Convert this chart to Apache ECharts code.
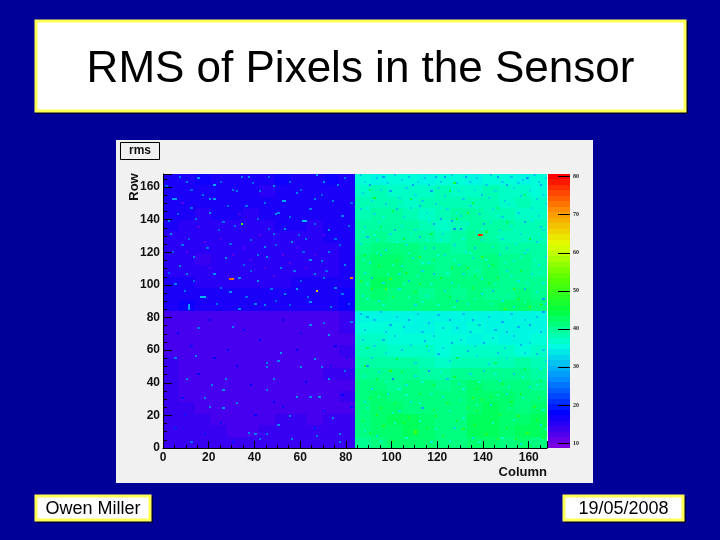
<!DOCTYPE html>
<html>
<head>
<meta charset="utf-8">
<style>
  html, body { margin: 0; padding: 0; background: #000099; }
  #chart { width: 720px; height: 540px; }
</style>
<script src="https://cdn.jsdelivr.net/npm/echarts@6/dist/echarts.min.js"></script>
</head>
<body>
<div id="chart"></div>
<script>
// tick labels
const colorbarTicks = [10, 20, 30, 40, 50, 60, 70, 80];

// rms per block of 7x7 pixels, top row of blocks first
const leftBlocks = [
  [16, 16, 17, 16, 16, 16, 16, 17, 16, 16, 17, 16],
  [16, 16, 16, 16, 16, 16, 15, 16, 16, 16, 16, 16],
  [16, 16, 16, 16, 16, 16, 16, 16, 16, 16, 16, 16],
  [16, 16, 15, 16, 16, 15, 16, 16, 16, 16, 16, 16],
  [16, 15, 15, 15, 15, 15, 15, 16, 16, 15, 16, 16],
  [15, 15, 15, 15, 15, 15, 15, 15, 15, 15, 16, 16],
  [15, 15, 15, 15, 15, 15, 15, 15, 15, 15, 15, 16],
  [15, 15, 14, 15, 15, 15, 15, 15, 15, 15, 15, 16],
  [15, 15, 15, 15, 15, 15, 15, 15, 15, 15, 15, 16],
  [16, 16, 15, 15, 15, 15, 15, 15, 16, 16, 16, 16],
  [16, 16, 16, 16, 16, 16, 16, 16, 16, 16, 16, 17],
  [16, 17, 16, 16, 16, 16, 16, 16, 16, 16, 16, 17],
  [13, 13, 13, 13, 13, 13, 13, 13, 13, 13, 13, 14],
  [13, 13, 13, 13, 13, 13, 13, 13, 13, 13, 13, 14],
  [13, 13, 13, 13, 13, 13, 13, 13, 13, 13, 13, 13],
  [13, 13, 13, 13, 13, 13, 13, 13, 13, 13, 13, 14],
  [14, 13, 13, 13, 13, 13, 13, 13, 13, 13, 13, 13],
  [14, 13, 13, 13, 13, 13, 13, 13, 13, 13, 14, 14],
  [14, 13, 13, 13, 13, 13, 13, 13, 13, 13, 13, 13],
  [14, 13, 13, 13, 13, 13, 13, 13, 13, 13, 13, 14],
  [14, 14, 13, 13, 13, 13, 13, 13, 13, 13, 13, 13],
  [14, 14, 14, 13, 13, 13, 13, 14, 14, 13, 14, 14],
  [14, 14, 14, 14, 13, 13, 14, 14, 14, 14, 14, 14],
  [14, 14, 14, 14, 14, 14, 14, 14, 14, 14, 14, 14]
];
const rightBlocks = [
  [36, 35, 36, 36, 35, 36, 36, 35, 36, 36, 35, 36],
  [37, 38, 37, 37, 37, 38, 37, 37, 38, 37, 37, 36],
  [38, 38, 38, 37, 38, 38, 38, 38, 38, 37, 38, 37],
  [38, 39, 39, 38, 37, 38, 39, 39, 38, 38, 37, 37],
  [39, 39, 39, 39, 38, 37, 38, 39, 39, 39, 38, 38],
  [39, 40, 39, 39, 39, 38, 39, 40, 39, 38, 38, 38],
  [40, 41, 41, 41, 40, 40, 39, 40, 40, 39, 39, 39],
  [41, 42, 42, 41, 40, 40, 40, 40, 41, 40, 40, 39],
  [41, 42, 42, 41, 41, 40, 41, 40, 41, 40, 40, 39],
  [41, 43, 42, 41, 41, 41, 41, 41, 41, 40, 40, 40],
  [41, 42, 41, 41, 40, 41, 40, 41, 40, 40, 41, 40],
  [41, 41, 41, 41, 41, 41, 41, 41, 41, 42, 42, 41],
  [35, 35, 35, 35, 35, 35, 35, 35, 35, 35, 35, 35],
  [36, 36, 36, 35, 35, 36, 35, 36, 35, 35, 35, 35],
  [37, 37, 36, 36, 36, 36, 36, 35, 36, 35, 35, 36],
  [38, 38, 37, 37, 37, 36, 37, 37, 37, 37, 36, 37],
  [39, 39, 39, 39, 38, 37, 38, 38, 38, 38, 39, 38],
  [40, 40, 40, 40, 39, 39, 40, 40, 40, 40, 40, 39],
  [41, 41, 40, 41, 41, 40, 41, 42, 41, 41, 41, 40],
  [41, 42, 41, 41, 41, 41, 41, 42, 42, 42, 41, 41],
  [41, 42, 42, 41, 41, 41, 41, 42, 43, 42, 41, 42],
  [41, 42, 43, 43, 42, 41, 41, 43, 43, 42, 42, 43],
  [41, 42, 42, 43, 42, 41, 41, 43, 43, 42, 43, 43],
  [40, 41, 42, 42, 42, 41, 41, 42, 42, 41, 42, 41]
];

// noisy single pixels as [column, row, rms]
const leftSpecks = [
  [4, 152, 28], [5, 152, 28], [22, 161, 29], [15, 165, 27], [10, 163, 26], [20, 152, 27], [22, 152, 28],
  [52, 151, 29], [53, 151, 29], [48, 160, 27], [61, 139, 30], [62, 139, 30], [37, 166, 26], [34, 166, 26],
  [67, 167, 28], [70, 163, 27], [76, 161, 26], [74, 151, 26], [50, 144, 26], [49, 143, 27], [20, 144, 27],
  [53, 134, 27], [72, 133, 27], [56, 126, 27], [44, 123, 26], [27, 116, 27], [45, 117, 27], [51, 110, 26],
  [22, 106, 27], [33, 104, 27], [58, 97, 28], [66, 106, 26], [53, 94, 27], [44, 87, 26], [33, 85, 27],
  [40, 88, 26], [64, 89, 27], [73, 86, 26], [3, 131, 27], [2, 139, 26], [7, 111, 26], [10, 106, 26],
  [13, 117, 26], [5, 100, 26], [16, 92, 30], [17, 92, 30], [18, 92, 30], [29, 95, 27], [41, 102, 27],
  [64, 115, 27], [72, 120, 26], [69, 114, 26], [79, 112, 26], [11, 85, 28], [11, 86, 28], [11, 87, 28],
  [30, 158, 25], [42, 157, 25], [58, 156, 26], [66, 152, 26], [12, 147, 25], [36, 148, 25], [26, 138, 25],
  [48, 131, 25], [62, 128, 25], [78, 142, 26], [8, 124, 25], [38, 127, 25], [57, 108, 25], [75, 98, 26],
  [1, 160, 24], [7, 166, 25], [12, 158, 24], [17, 155, 25], [25, 163, 24], [28, 148, 24], [32, 157, 25],
  [39, 162, 24], [44, 150, 25], [46, 166, 24], [55, 163, 25], [60, 158, 24], [64, 146, 25], [69, 155, 24],
  [79, 165, 25], [82, 150, 24], [6, 143, 24], [14, 140, 25], [24, 133, 24], [31, 136, 25], [41, 140, 24],
  [46, 134, 24], [55, 141, 25], [59, 130, 24], [66, 137, 25], [75, 128, 24], [81, 136, 25], [4, 120, 24],
  [11, 128, 24], [19, 122, 25], [29, 125, 24], [35, 112, 24], [41, 118, 25], [49, 124, 24], [61, 120, 24],
  [70, 104, 25], [77, 124, 24], [2, 107, 24], [9, 96, 25], [13, 102, 24], [25, 98, 25], [36, 92, 24],
  [38, 108, 24], [47, 97, 25], [49, 90, 24], [60, 102, 24], [63, 92, 25], [71, 108, 24], [78, 94, 25],
  [81, 88, 24], [23, 88, 25], [55, 87, 24],
  [30, 74, 26], [64, 75, 26], [70, 76, 25], [82, 77, 26], [72, 69, 27], [15, 73, 25], [51, 58, 28],
  [14, 56, 26], [5, 55, 26], [66, 54, 27], [45, 52, 26], [45, 49, 26], [60, 49, 27], [69, 49, 26],
  [79, 47, 25], [72, 42, 27], [48, 42, 26], [10, 42, 26], [27, 42, 26], [21, 38, 26], [26, 35, 27],
  [45, 35, 25], [58, 31, 27], [64, 31, 26], [68, 31, 27], [18, 30, 26], [32, 27, 26], [20, 25, 26],
  [26, 24, 27], [55, 19, 26], [74, 18, 26], [50, 14, 26], [37, 9, 26], [40, 8, 26], [45, 8, 25],
  [56, 5, 26], [42, 5, 25], [12, 3, 25], [77, 3, 26], [67, 7, 25], [77, 8, 26], [50, 53, 26]
];
const leftPurpleSpecks = [
  [10, 120, 11], [20, 110, 12], [30, 118, 11], [38, 115, 12], [48, 105, 11], [58, 122, 12], [25, 128, 12],
  [42, 130, 11], [66, 118, 12], [15, 135, 12], [55, 113, 11], [33, 143, 12], [70, 130, 12], [8, 150, 12],
  [18, 126, 11], [35, 122, 12], [52, 118, 11], [44, 110, 12], [28, 105, 12], [62, 110, 12]
];
const leftBlueSpecks = [
  [6, 70, 18], [12, 62, 19], [20, 78, 18], [28, 60, 18], [35, 72, 19], [42, 66, 18], [52, 78, 18], [60, 70, 19],
  [75, 62, 18], [80, 55, 19], [8, 30, 19], [15, 45, 18], [25, 15, 19], [32, 50, 18], [38, 38, 18], [52, 25, 19],
  [62, 40, 18], [70, 22, 19], [78, 32, 18], [5, 12, 20], [18, 8, 19], [30, 3, 19], [48, 28, 18], [66, 12, 20],
  [82, 25, 19], [9, 20, 19], [22, 55, 18], [40, 20, 18], [58, 60, 18], [73, 50, 19]
];
const rightDarkSpecks = [
  [90, 161, 28], [96, 166, 29], [109, 161, 28], [119, 166, 29], [123, 166, 28], [132, 166, 28], [146, 166, 28],
  [150, 161, 29], [159, 165, 28], [165, 161, 29], [99, 157, 29], [117, 157, 28], [139, 155, 29], [102, 146, 30],
  [112, 148, 30], [121, 140, 29], [126, 139, 28], [118, 137, 28], [127, 134, 27], [130, 134, 27], [140, 137, 29],
  [158, 138, 29], [165, 135, 30], [89, 129, 30], [101, 133, 30], [112, 129, 30], [118, 122, 31], [136, 122, 30],
  [150, 122, 31], [163, 126, 31], [128, 90, 30], [166, 91, 28], [158, 97, 30], [118, 106, 30], [107, 102, 31],
  [91, 104, 31], [144, 96, 30], [89, 80, 29], [99, 75, 29], [107, 78, 29], [125, 78, 28], [135, 78, 29],
  [148, 77, 29], [160, 75, 28], [166, 83, 28], [96, 66, 30], [114, 65, 30], [126, 64, 29], [140, 64, 29],
  [156, 63, 30], [104, 60, 30], [120, 57, 30], [133, 59, 30], [146, 58, 30], [163, 57, 30], [89, 50, 28],
  [116, 47, 27], [100, 42, 26], [113, 24, 29], [124, 42, 31], [140, 47, 31], [153, 45, 31]
];
const rightMidSpecks = [
  [86, 167, 31], [88, 163, 32], [93, 165, 31], [98, 162, 32], [101, 167, 31], [104, 164, 32], [107, 166, 31],
  [111, 163, 32], [114, 165, 31], [116, 161, 32], [121, 163, 31], [126, 167, 32], [128, 162, 31], [134, 163, 32],
  [137, 165, 31], [141, 161, 32], [143, 167, 31], [148, 163, 32], [152, 166, 31], [155, 162, 32], [157, 164, 31],
  [162, 167, 32], [164, 163, 31], [167, 165, 32],
  [87, 156, 32], [91, 151, 33], [95, 158, 32], [103, 153, 33], [106, 159, 32], [110, 155, 33], [113, 151, 32],
  [120, 159, 33], [123, 154, 32], [129, 157, 33], [131, 152, 32], [136, 158, 33], [142, 153, 32], [145, 157, 33],
  [149, 151, 32], [153, 159, 33], [156, 154, 32], [160, 157, 33], [163, 152, 32], [166, 155, 33],
  [86, 146, 32], [92, 143, 33], [97, 149, 32], [105, 141, 33], [108, 147, 32], [115, 144, 33], [119, 149, 32],
  [124, 146, 33], [130, 142, 32], [134, 148, 33], [138, 143, 32], [144, 146, 33], [148, 141, 32], [151, 149, 33],
  [155, 144, 32], [161, 147, 33], [164, 142, 32], [167, 149, 33],
  [88, 135, 33], [94, 138, 34], [99, 131, 33], [104, 136, 34], [110, 133, 33], [116, 139, 34], [122, 131, 33],
  [133, 137, 34], [137, 132, 33], [143, 138, 34], [147, 133, 33], [152, 136, 34], [156, 131, 33], [161, 139, 34],
  [166, 133, 33],
  [86, 125, 33], [93, 127, 34], [97, 121, 33], [106, 124, 34], [114, 122, 33], [121, 127, 34], [127, 124, 33],
  [132, 120, 34], [139, 127, 33], [144, 123, 34], [148, 128, 33], [154, 125, 34], [159, 121, 33], [165, 128, 34],
  [90, 113, 34], [95, 118, 33], [104, 111, 34], [109, 116, 33], [116, 113, 34], [123, 118, 33], [129, 112, 34],
  [135, 116, 33], [142, 111, 34], [147, 118, 33], [153, 114, 34], [158, 119, 33], [164, 112, 34], [167, 117, 33],
  [88, 107, 34], [96, 101, 33], [103, 106, 34], [113, 108, 33], [126, 101, 34], [131, 106, 33], [139, 103, 34],
  [150, 108, 33], [155, 102, 34], [161, 106, 33], [166, 101, 34],
  [87, 93, 34], [94, 90, 33], [103, 97, 34], [110, 87, 33], [115, 93, 34], [123, 96, 33], [133, 88, 34],
  [139, 94, 33], [148, 90, 34], [153, 86, 33], [163, 95, 34], [167, 88, 33],
  [86, 82, 30], [92, 78, 31], [95, 83, 30], [102, 80, 31], [105, 74, 30], [111, 82, 31], [116, 76, 30],
  [120, 81, 31], [128, 73, 30], [131, 82, 31], [138, 75, 30], [142, 80, 31], [145, 72, 30], [152, 82, 31],
  [155, 74, 30], [163, 80, 31], [165, 71, 30], [88, 72, 31], [97, 71, 30], [113, 71, 31], [122, 73, 30],
  [134, 71, 31], [150, 71, 30], [158, 78, 31],
  [87, 66, 31], [92, 62, 32], [101, 68, 31], [108, 63, 32], [118, 68, 31], [122, 61, 32], [130, 66, 31],
  [136, 62, 32], [144, 67, 31], [149, 61, 32], [153, 68, 31], [160, 64, 32], [166, 60, 31],
  [91, 55, 32], [97, 58, 33], [110, 52, 32], [116, 59, 33], [125, 53, 32], [137, 56, 33], [142, 51, 32],
  [150, 55, 33], [158, 58, 32], [167, 53, 33],
  [94, 46, 33], [106, 38, 34], [110, 44, 33], [129, 39, 34], [134, 45, 33], [147, 41, 34], [160, 37, 33],
  [165, 48, 34], [91, 36, 33],
  [88, 28, 34], [103, 22, 33], [122, 31, 34], [127, 12, 33], [143, 26, 34], [150, 33, 33], [165, 14, 34],
  [93, 7, 33], [117, 3, 34], [135, 6, 33], [156, 2, 34], [98, 33, 33], [108, 28, 34]
];
const rightCyanSpecks = [
  [89, 147, 35], [96, 141, 35], [103, 148, 35], [112, 142, 35], [121, 147, 35], [128, 144, 35], [137, 147, 35],
  [146, 142, 35], [154, 148, 35], [163, 145, 35], [87, 132, 36], [92, 130, 36], [102, 126, 36], [108, 131, 36],
  [115, 127, 36], [124, 133, 36], [131, 128, 36], [139, 134, 36], [146, 129, 36], [153, 133, 36], [158, 127, 36],
  [164, 131, 36], [87, 115, 37], [93, 119, 37], [100, 112, 37], [107, 119, 37], [113, 113, 37], [120, 118, 37],
  [127, 115, 37], [134, 119, 37], [141, 115, 37], [149, 113, 37], [156, 117, 37], [162, 115, 37], [89, 100, 37],
  [98, 106, 37], [105, 100, 37], [111, 105, 37], [117, 100, 37], [124, 107, 37], [129, 99, 37], [137, 108, 37],
  [145, 100, 37], [152, 105, 37], [159, 101, 37], [165, 107, 37], [89, 91, 37], [96, 87, 37], [107, 92, 37],
  [113, 89, 37], [120, 87, 37], [127, 86, 37], [136, 91, 37], [143, 88, 37], [151, 93, 37], [158, 89, 37],
  [88, 44, 36], [97, 40, 36], [103, 36, 36], [113, 40, 36], [121, 46, 36], [131, 36, 36], [138, 40, 36],
  [145, 45, 36], [151, 37, 36], [157, 43, 36], [163, 38, 36], [89, 24, 37], [94, 31, 37], [100, 21, 37],
  [106, 32, 37], [112, 27, 37], [117, 33, 37], [125, 22, 37], [130, 29, 37], [137, 26, 37], [146, 32, 37],
  [151, 24, 37], [157, 30, 37], [166, 23, 37], [88, 10, 37], [95, 4, 37], [101, 15, 37], [106, 6, 37],
  [112, 16, 37], [119, 11, 37], [125, 4, 37], [131, 18, 37], [138, 3, 37], [144, 15, 37], [148, 6, 37],
  [153, 17, 37], [160, 3, 37], [167, 11, 37]
];
const rightLightSpecks = [
  [97, 97, 52], [99, 103, 50], [91, 97, 49], [112, 117, 50], [139, 117, 51], [133, 144, 49], [127, 162, 47],
  [92, 153, 47], [160, 86, 52], [149, 85, 50], [112, 100, 48], [121, 104, 47], [133, 110, 48], [146, 104, 48],
  [153, 97, 50], [102, 114, 48], [86, 102, 48], [99, 47, 50], [88, 50, 48], [135, 30, 50], [95, 24, 49],
  [119, 19, 49], [139, 29, 49], [155, 19, 49], [110, 10, 51], [110, 9, 51], [131, 11, 49], [159, 9, 50],
  [105, 15, 48], [96, 13, 49], [146, 5, 49], [137, 22, 48], [162, 25, 48],
  [90, 158, 44], [100, 145, 44], [108, 152, 45], [125, 157, 44], [135, 150, 45], [146, 147, 44], [158, 155, 44],
  [95, 135, 45], [105, 128, 46], [117, 131, 45], [128, 140, 45], [141, 132, 46], [150, 138, 45], [160, 128, 45],
  [88, 118, 46], [94, 111, 47], [106, 107, 46], [118, 115, 46], [126, 110, 47], [136, 105, 46], [144, 112, 46],
  [156, 108, 46], [100, 92, 47], [110, 95, 46], [125, 92, 46], [135, 98, 47], [142, 101, 46], [155, 91, 47],
  [165, 87, 47], [89, 61, 43], [102, 54, 44], [115, 62, 43], [128, 55, 44], [145, 52, 44], [158, 48, 45],
  [93, 42, 46], [104, 46, 46], [118, 38, 46], [127, 43, 46], [137, 36, 47], [148, 39, 46], [156, 33, 47],
  [165, 41, 46], [90, 30, 47], [101, 27, 47], [112, 33, 47], [124, 27, 47], [133, 24, 48], [143, 31, 47],
  [152, 28, 47], [164, 30, 47], [87, 16, 47], [93, 20, 48], [100, 4, 47], [107, 18, 48], [115, 12, 47],
  [122, 7, 48], [128, 16, 47], [136, 14, 48], [141, 8, 48], [150, 12, 48], [154, 5, 48], [163, 17, 48],
  [166, 6, 47], [90, 9, 47], [118, 23, 47], [147, 20, 48]
];
const hotPixels = [
  [29, 103, 74], [30, 103, 72], [82, 104, 72], [67, 96, 68], [138, 130, 78], [139, 130, 76], [34, 137, 50]
];

// lower edge of each band of the colour bar
const paletteLevels = [
  8.7, 10.1, 11.6, 13.0, 14.5, 15.9, 17.3, 18.8, 20.2, 21.7,
  23.1, 24.5, 26.0, 27.4, 28.9, 30.3, 31.7, 33.2, 34.6, 36.1,
  37.5, 38.9, 40.4, 41.8, 43.3, 44.7, 46.1, 47.6, 49.0, 50.5,
  51.9, 53.3, 54.8, 56.2, 57.7, 59.1, 60.5, 62.0, 63.4, 64.9,
  66.3, 67.7, 69.2, 70.6, 72.1, 73.5, 74.9, 76.4, 77.8, 79.3
];
const bandWidth = 1.5;

const paletteColors = [
  "#8000e0", "#0000ff", "#008cff", "#00ffe0", "#00ff40",
  "#57ff00", "#e3ff00", "#ff8f00", "#ff0000",
];

const mapCells = [];
[leftBlocks, rightBlocks].forEach((blocks, side) => {
  blocks.forEach((line, i) => {
    line.forEach((v, j) => {
      mapCells.push([side * 84 + j * 7, 161 - i * 7, 7, 7, v]);
    });
  });
});
[leftPurpleSpecks, leftBlueSpecks, leftSpecks, rightCyanSpecks, rightMidSpecks, rightLightSpecks, rightDarkSpecks, hotPixels].forEach((specks) => {
  specks.forEach((s) => mapCells.push([s[0], s[1], 1, 1, s[2]]));
});

const barCells = paletteLevels.map((v) => [0, v, 1, bandWidth, v + 0.72]);

function renderCell(params, api) {
  const a = api.coord([api.value(0), api.value(1)]);
  const b = api.coord([api.value(0) + api.value(2), api.value(1) + api.value(3)]);
  const x = Math.round(a[0]);
  const y = Math.round(b[1]);
  return {
    type: "rect",
    shape: {
      x: x,
      y: y,
      width: Math.max(Math.round(b[0]) - x, 2),
      height: Math.max(Math.round(a[1]) - y, 2),
    },
    style: { fill: api.visual("color") },
  };
}

function box(x, y, w, h, size, text, textY) {
  return [
    {
      type: "rect",
      z: -6,
      shape: { x: x, y: y, width: w + 3, height: h + 3 },
      style: { fill: "#000033" },
    },
    {
      type: "rect",
      z: -5,
      shape: { x: x, y: y, width: w, height: h },
      style: { fill: "#ffffff", stroke: "#ffff55", lineWidth: 3 },
    },
    {
      type: "text",
      z: 5,
      x: x + w / 2,
      y: textY,
      style: {
        text: text,
        fill: "#000000",
        font: size + "px 'Liberation Sans'",
        textAlign: "center",
        textVerticalAlign: "middle",
      },
    },
  ];
}

const tickFont = { color: "#111111", fontFamily: "Liberation Sans", fontWeight: "bold", fontSize: 12 };

const option = {
  backgroundColor: "#000099",
  animation: false,
  graphic: [
    ...box(36, 21, 649, 90, 44, "RMS of Pixels in the Sensor", 70),
    ...box(36, 496, 114, 24, 18, "Owen Miller", 509),
    ...box(564, 496, 119, 24, 18, "19/05/2008", 509),
    {
      type: "rect",
      z: -6,
      shape: { x: 116, y: 140, width: 477, height: 343 },
      style: { fill: "#f1f1f1" },
    },
    {
      type: "rect",
      z: -4,
      shape: { x: 120.5, y: 142.5, width: 39, height: 17 },
      style: { fill: "#f1f1f1", stroke: "#000000", lineWidth: 1 },
    },
    {
      type: "text",
      z: 5,
      x: 140,
      y: 151,
      style: {
        text: "rms",
        fill: "#111111",
        font: "bold 12px 'Liberation Sans'",
        textAlign: "center",
        textVerticalAlign: "middle",
      },
    },
    {
      type: "text",
      z: 5,
      x: 134,
      y: 187,
      rotation: Math.PI / 2,
      style: {
        text: "Row",
        fill: "#111111",
        font: "bold 13px 'Liberation Sans'",
        textAlign: "center",
        textVerticalAlign: "middle",
      },
    },
  ],
  grid: [
    { left: 163, right: 173, top: 174, bottom: 92 },
    { left: 548, right: 150, top: 174, bottom: 92 },
  ],
  xAxis: [
    {
      type: "value",
      gridIndex: 0,
      z: 5,
      min: 0,
      max: 168,
      interval: 20,
      name: "Column",
      nameLocation: "end",
      nameGap: 0,
      nameTextStyle: {
        color: "#111111",
        fontFamily: "Liberation Sans",
        fontWeight: "bold",
        fontSize: 13,
        align: "right",
        verticalAlign: "top",
        padding: [18, 0, 0, 0],
      },
      splitLine: { show: false },
      axisLine: { lineStyle: { color: "#000000" } },
      axisTick: { inside: true, length: 7, lineStyle: { color: "#000000" } },
      minorTick: { show: true, splitNumber: 4, length: 3, lineStyle: { color: "#000000" } },
      axisLabel: { ...tickFont, margin: 4, showMaxLabel: false },
    },
    { type: "value", gridIndex: 1, min: 0, max: 1, show: false },
  ],
  yAxis: [
    {
      type: "value",
      gridIndex: 0,
      z: 5,
      min: 0,
      max: 168,
      interval: 20,
      splitLine: { show: false },
      axisLine: { lineStyle: { color: "#000000" } },
      axisTick: { inside: true, length: 9, lineStyle: { color: "#000000" } },
      minorTick: { show: true, splitNumber: 4, length: 4, lineStyle: { color: "#000000" } },
      axisLabel: { ...tickFont, margin: 3, padding: [4, 0, 0, 0], showMaxLabel: false },
    },
    {
      type: "value",
      gridIndex: 1,
      z: 5,
      position: "right",
      min: 8.7,
      max: 80.7,
      splitLine: { show: false },
      axisLine: { show: false, onZero: false },
      axisTick: {
        inside: true,
        length: 12,
        customValues: colorbarTicks,
        lineStyle: { color: "#000000" },
      },
      axisLabel: {
        color: "#1a1a1a",
        fontFamily: "Liberation Serif",
        fontWeight: "bold",
        fontSize: 6,
        margin: 3,
        customValues: colorbarTicks,
      },
    },
  ],
  visualMap: {
    show: false,
    type: "continuous",
    min: 9,
    max: 80,
    dimension: 4,
    seriesIndex: [0, 1],
    inRange: { color: paletteColors },
  },
  series: [
    {
      type: "custom",
      xAxisIndex: 0,
      yAxisIndex: 0,
      data: mapCells,
      renderItem: renderCell,
      encode: { x: 0, y: 1 },
      progressive: 0,
      clip: true,
    },
    {
      type: "custom",
      xAxisIndex: 1,
      yAxisIndex: 1,
      data: barCells,
      renderItem: renderCell,
      encode: { x: 0, y: 1 },
      progressive: 0,
      clip: true,
    },
  ],
};

const chart = echarts.init(document.getElementById("chart"), null, { width: 720, height: 540 });
chart.setOption(option);
</script>
</body>
</html>
